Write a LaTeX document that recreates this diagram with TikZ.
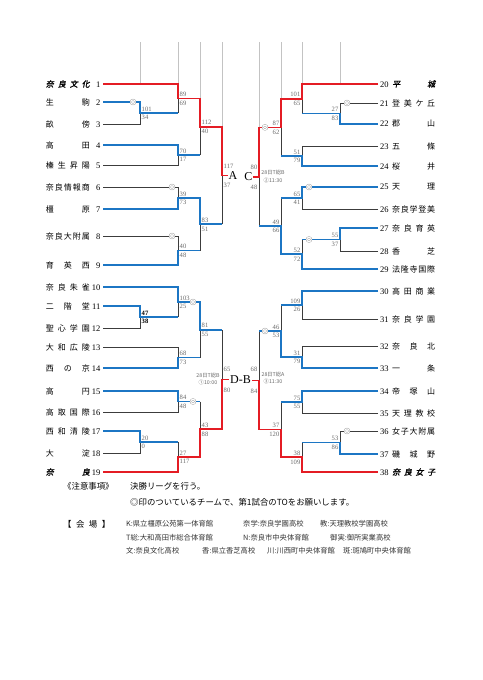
\documentclass[tikz,border=0pt]{standalone}
\usepackage{fontspec}
\setmainfont{Liberation Serif}
\newfontfamily\jp{Noto Sans CJK JP}
\newfontfamily\jpbi[FakeSlant=0.2,FakeBold=1.6]{Noto Sans CJK JP}
\definecolor{wred}{RGB}{228,28,36}
\definecolor{wblue}{RGB}{28,118,196}
\definecolor{lk}{RGB}{60,60,60}
\definecolor{scg}{RGB}{105,105,105}
\definecolor{guideg}{RGB}{195,195,195}
\definecolor{mkg}{RGB}{140,140,140}
\tikzset{
 lose/.style={draw=lk,line width=0.8pt,line join=miter},
 winr/.style={draw=wred,line width=1.6pt,line join=miter},
 winb/.style={draw=wblue,line width=1.6pt,line join=miter},
 guide/.style={draw=guideg,line width=0.7pt},
 teamL/.style={anchor=east,inner sep=0pt,font=\fontsize{8}{9}\selectfont},
 teamR/.style={anchor=west,inner sep=0pt,font=\fontsize{8}{9}\selectfont},
 score/.style={inner sep=0.2pt,font=\fontsize{6.6}{7}\selectfont,text=scg},
 dmk/.style={circle,draw=mkg,double=white,double distance=1.1pt,line width=0.35pt,fill=white,minimum size=4.4pt,inner sep=0pt},
 blk/.style={inner sep=0.5pt,font=\fontsize{12}{12}\selectfont},
 dat/.style={inner sep=0pt,align=center,font=\jp\fontsize{5.3}{7.8}\selectfont,text=scg},
 note/.style={anchor=west,inner sep=0pt,font=\jp\fontsize{8.4}{9}\selectfont},
 venue/.style={anchor=west,inner sep=0pt,font=\jp\fontsize{7.3}{8}\selectfont,text=black!80},
}
\newcommand\NameL[3]{\node[teamL] (t#1) at (103,#2) {\makebox[44pt][s]{#3}\makebox[13pt][r]{\fontsize{8.5}{9}\selectfont #1\hspace{2.5pt}}};}
\newcommand\NameR[3]{\node[teamR] (t#1) at (378,#2) {\makebox[14pt][l]{\hspace{2pt}\fontsize{8.5}{9}\selectfont #1}\makebox[43pt][s]{#3}};}
\newcommand\ScoreL[4][1.4]{\node[score,anchor=south west] (#2a) at ([xshift=1.3pt,yshift=#1pt]#2) {#3};\node[score,anchor=north west] (#2b) at ([xshift=1.3pt,yshift=-#1pt-0.6pt]#2) {#4};}
\newcommand\ScoreR[4][1.4]{\node[score,anchor=south east] (#2a) at ([xshift=-1.3pt,yshift=#1pt]#2) {#3};\node[score,anchor=north east] (#2b) at ([xshift=-1.3pt,yshift=-#1pt-0.6pt]#2) {#4};}
\begin{document}
\begin{tikzpicture}[x=1pt,y=-1pt]
\useasboundingbox (0,0) rectangle (482,680);
% ---------- teams left
\NameL{1}{84}{\jpbi 奈\hfill 良\hfill 文\hfill 化}
\NameL{2}{102}{\jp 生\hfill 駒}
\NameL{3}{124}{\jp 畝\hfill 傍}
\NameL{4}{145}{\jp 高\hfill 田}
\NameL{5}{165}{\jp 榛\hfill 生\hfill 昇\hfill 陽}
\NameL{6}{187}{\jp 奈\hfill 良\hfill 情\hfill 報\hfill 商}
\NameL{7}{209}{\jp 橿\hfill 原}
\NameL{8}{236}{\jp 奈\hfill 良\hfill 大\hfill 附\hfill 属}
\NameL{9}{265}{\jp 育\hfill 英\hfill 西}
\NameL{10}{287}{\jp 奈\hfill 良\hfill 朱\hfill 雀}
\NameL{11}{306}{\jp 二\hfill 階\hfill 堂}
\NameL{12}{328}{\jp 聖\hfill 心\hfill 学\hfill 園}
\NameL{13}{347}{\jp 大\hfill 和\hfill 広\hfill 陵}
\NameL{14}{368}{\jp 西\hfill の\hfill 京}
\NameL{15}{391}{\jp 高\hfill 円}
\NameL{16}{412}{\jp 高\hfill 取\hfill 国\hfill 際}
\NameL{17}{431}{\jp 西\hfill 和\hfill 清\hfill 陵}
\NameL{18}{453}{\jp 大\hfill 淀}
\NameL{19}{472}{\jpbi 奈\hfill 良}
% ---------- teams right
\NameR{20}{84}{\jpbi 平\hfill 城}
\NameR{21}{103}{\jp 登\hfill 美\hfill ケ\hfill 丘}
\NameR{22}{124}{\jp 郡\hfill 山}
\NameR{23}{146}{\jp 五\hfill 條}
\NameR{24}{166}{\jp 桜\hfill 井}
\NameR{25}{187}{\jp 天\hfill 理}
\NameR{26}{209}{\jp 奈\hfill 良\hfill 学\hfill 登\hfill 美}
\NameR{27}{228}{\jp 奈\hfill 良\hfill 育\hfill 英}
\NameR{28}{251}{\jp 香\hfill 芝}
\NameR{29}{269}{\jp 法\hfill 隆\hfill 寺\hfill 国\hfill 際}
\NameR{30}{291}{\jp 高\hfill 田\hfill 商\hfill 業}
\NameR{31}{319}{\jp 奈\hfill 良\hfill 学\hfill 園}
\NameR{32}{346}{\jp 奈\hfill 良\hfill 北}
\NameR{33}{368}{\jp 一\hfill 条}
\NameR{34}{391}{\jp 帝\hfill 塚\hfill 山}
\NameR{35}{413}{\jp 天\hfill 理\hfill 教\hfill 校}
\NameR{36}{431}{\jp 女\hfill 子\hfill 大\hfill 附\hfill 属}
\NameR{37}{454}{\jp 磯\hfill 城\hfill 野}
\NameR{38}{472}{\jpbi 奈\hfill 良\hfill 女\hfill 子}
% ---------- match points left
\coordinate (m23) at (140,113);
\coordinate (m1) at (178,98.5);
\coordinate (m45) at (178,155);
\coordinate (mA1) at (200,126.75);
\coordinate (m67) at (178,198);
\coordinate (m89) at (178,250.5);
\coordinate (mA2) at (200,224.25);
\coordinate (mA) at (222,175.5);
\coordinate (m1112) at (140,317);
\coordinate (m10) at (178,302);
\coordinate (m1314) at (178,357.5);
\coordinate (mD1) at (200,329.75);
\coordinate (m1516) at (178,401.5);
\coordinate (m1718) at (140,442);
\coordinate (m19) at (178,457);
\coordinate (mD2) at (200,429.25);
\coordinate (mD) at (222,379.5);
% ---------- match points right
\coordinate (m2122) at (340,113.5);
\coordinate (m20) at (302,98.75);
\coordinate (m2324) at (302,156);
\coordinate (mC1) at (281,127.375);
\coordinate (m2526) at (302,198);
\coordinate (m2728) at (340,239.5);
\coordinate (m29) at (302,254.25);
\coordinate (mC2) at (281,226.125);
\coordinate (mC) at (259,176.75);
\coordinate (m3031) at (302,305);
\coordinate (m3233) at (302,357);
\coordinate (mB1) at (281,331);
\coordinate (m3435) at (302,402);
\coordinate (m3637) at (340,442.5);
\coordinate (m38) at (302,457.25);
\coordinate (mB2) at (281,429.625);
\coordinate (mB) at (259,380.3125);
% ---------- centre labels
\node[blk,anchor=west] (nA) at (228,175.5) {A};
\node[blk,anchor=east] (nC) at (253,176.75) {C};
\node[blk] (nDB) at (240.5,379.9) {D-B};
\node[dat] (dC) at (273,176.5) {28日T総B\\②11:30};
\node[dat] (dD) at (208,379) {28日T総B\\①10:00};
\node[dat] (dB) at (273,378) {28日T総A\\③11:30};
% ---------- guide lines at top
\coordinate (gL1) at (140,42);
\coordinate (gL2) at (178,42);
\coordinate (gL3) at (200,42);
\coordinate (gL4) at (222,42);
\coordinate (gR1) at (340,42);
\coordinate (gR2) at (302,42);
\coordinate (gR3) at (281,42);
\coordinate (gR4) at (259,42);
\draw[guide] (gL1) -- (gL1 |- t1.east) (gL2) -- (gL2 |- t1.east)
 (gL3) -- (gL3 |- m1) (gL4) -- (gL4 |- mA1)
 (gR1) -- (gR1 |- t20.west) (gR2) -- (gR2 |- t20.west)
 (gR3) -- (gR3 |- m20) (gR4) -- (gR4 |- mC1);
% ---------- losing lines
\draw[lose]
 (t3.east) -- (t3.east -| m23) -- (m23)
 (m23 -| m1) -- (m1)
 (t5.east) -- (t5.east -| m45) -- (m45)
 (m45 -| mA1) -- (mA1)
 (t6.east) -- (t6.east -| m67) -- (m67)
 (t8.east) -- (t8.east -| m89) -- (m89)
 (m89 -| mA2) -- (mA2)
 (mA2 -| mA) -- (mA)
 (t12.east) -- (t12.east -| m1112) -- (m1112)
 (m1112 -| m10) -- (m10)
 (t13.east) -- (t13.east -| m1314) -- (m1314)
 (m1314 -| mD1) -- (mD1)
 (t16.east) -- (t16.east -| m1516) -- (m1516)
 (t18.east) -- (t18.east -| m1718) -- (m1718)
 (m1718 -| m19) -- (m19)
 (m1516 -| mD2) -- (mD2)
 (mD1 -| mD) -- (mD);
\draw[lose]
 (t21.west) -- (t21.west -| m2122) -- (m2122)
 (m2122 -| m20) -- (m20)
 (t23.west) -- (t23.west -| m2324) -- (m2324)
 (m2324 -| mC1) -- (mC1)
 (t26.west) -- (t26.west -| m2526) -- (m2526)
 (t28.west) -- (t28.west -| m2728) -- (m2728)
 (m2728 -| m29) -- (m29)
 (m2526 -| mC2) -- (mC2)
 (mC2 -| mC) -- (mC)
 (t31.west) -- (t31.west -| m3031) -- (m3031)
 (t32.west) -- (t32.west -| m3233) -- (m3233)
 (m3031 -| mB1) -- (mB1)
 (t35.west) -- (t35.west -| m3435) -- (m3435)
 (t36.west) -- (t36.west -| m3637) -- (m3637)
 (m3637 -| m38) -- (m38)
 (m3435 -| mB2) -- (mB2)
 (mB1 -| mB) -- (mB);
% ---------- blue winners
\draw[winb] (t2.east) -- (t2.east -| m23) -- (m23) -- (m23 -| m1);
\draw[winb] (t4.east) -- (t4.east -| m45) -- (m45) -- (m45 -| mA1);
\draw[winb] (t7.east) -- (t7.east -| m67) -- (m67) -- (m67 -| mA2) -- (mA2) -- (mA2 -| mA);
\draw[winb] (t9.east) -- (t9.east -| m89) -- (m89) -- (m89 -| mA2);
\draw[winb] (t10.east) -- (t10.east -| m10) -- (m10) -- (m10 -| mD1) -- (mD1) -- (mD1 -| mD);
\draw[winb] (t11.east) -- (t11.east -| m1112) -- (m1112) -- (m1112 -| m10);
\draw[winb] (t14.east) -- (t14.east -| m1314) -- (m1314) -- (m1314 -| mD1);
\draw[winb] (t15.east) -- (t15.east -| m1516) -- (m1516) -- (m1516 -| mD2);
\draw[winb] (t17.east) -- (t17.east -| m1718) -- (m1718) -- (m1718 -| m19);
\draw[winb] (t22.west) -- (t22.west -| m2122) -- (m2122) -- (m2122 -| m20);
\draw[winb] (t24.west) -- (t24.west -| m2324) -- (m2324) -- (m2324 -| mC1);
\draw[winb] (t25.west) -- (t25.west -| m2526) -- (m2526) -- (m2526 -| mC2);
\draw[winb] (t27.west) -- (t27.west -| m2728) -- (m2728) -- (m2728 -| m29);
\draw[winb] (t29.west) -- (t29.west -| m29) -- (m29) -- (m29 -| mC2) -- (mC2) -- (mC2 -| mC);
\draw[winb] (t30.west) -- (t30.west -| m3031) -- (m3031) -- (m3031 -| mB1);
\draw[winb] (t33.west) -- (t33.west -| m3233) -- (m3233) -- (m3233 -| mB1) -- (mB1) -- (mB1 -| mB);
\draw[winb] (t34.west) -- (t34.west -| m3435) -- (m3435) -- (m3435 -| mB2);
\draw[winb] (t37.west) -- (t37.west -| m3637) -- (m3637) -- (m3637 -| m38);
% ---------- red winners
\draw[winr] (t1.east) -- (t1.east -| m1) -- (m1) -- (m1 -| mA1) -- (mA1) -- (mA1 -| mA) -- (mA) -- (nA.west);
\draw[winr] (t19.east) -- (t19.east -| m19) -- (m19) -- (m19 -| mD2) -- (mD2) -- (mD2 -| mD) -- (mD) -- (mD -| nDB.west);
\draw[winr] (t20.west) -- (t20.west -| m20) -- (m20) -- (m20 -| mC1) -- (mC1) -- (mC1 -| mC) -- (mC) -- (nC.east);
\draw[winr] (t38.west) -- (t38.west -| m38) -- (m38) -- (m38 -| mB2) -- (mB2) -- (mB2 -| mB) -- (mB) -- (mB -| nDB.east);
% ---------- TO marks
\node[dmk] (o2) at (133,102) {};
\node[dmk] (o6) at (172,187) {};
\node[dmk] (o8) at (172,236) {};
\node[dmk] (o10) at (193,302) {};
\node[dmk] (o15) at (193,401.5) {};
\node[dmk] (o21) at (347,103) {};
\node[dmk] (oC1) at (265,127.375) {};
\node[dmk] (o25) at (309,187) {};
\node[dmk] (o27) at (309,239.5) {};
\node[dmk] (oB1) at (265,331) {};
\node[dmk] (o36) at (347,431) {};
% ---------- scores left
\ScoreL{m23}{101}{34}
\ScoreL{m1}{89}{69}
\ScoreL{m45}{70}{17}
\ScoreL{mA1}{112}{40}
\ScoreL{m67}{39}{73}
\ScoreL{m89}{40}{48}
\ScoreL{mA2}{83}{51}
\ScoreL[7]{mA}{117}{37}
\ScoreL{m1112}{\textbf{\color{black}47}}{\textbf{\color{black}38}}
\ScoreL{m10}{103}{25}
\ScoreL{m1314}{68}{73}
\ScoreL{mD1}{81}{55}
\ScoreL{m1516}{84}{48}
\ScoreL{m1718}{20}{0}
\ScoreL{m19}{27}{117}
\ScoreL{mD2}{43}{88}
\ScoreL[8]{mD}{65}{80}
% ---------- scores right
\ScoreR{m2122}{27}{83}
\ScoreR{m20}{101}{65}
\ScoreR{m2324}{51}{79}
\ScoreR{mC1}{87}{62}
\ScoreR{m2526}{65}{41}
\ScoreR{m2728}{55}{37}
\ScoreR{m29}{52}{72}
\ScoreR{mC2}{49}{66}
\ScoreR[7]{mC}{80}{48}
\ScoreR{m3031}{109}{26}
\ScoreR{m3233}{31}{79}
\ScoreR{mB1}{46}{53}
\ScoreR{m3435}{75}{55}
\ScoreR{m3637}{53}{86}
\ScoreR{m38}{38}{109}
\ScoreR{mB2}{37}{120}
\ScoreR[8]{mB}{68}{84}
% ---------- notes
\node[note] (nt1) at (63,486) {《注意事項》};
\node[note] (nt2) at (130,486) {決勝リーグを行う。};
\node[note] (nt3) at (130,502) {◎印のついているチームで、第1試合のTOをお願いします。};
\node[note] (nt4) at (63,524) {【\hspace{4.5pt}会\hspace{4.5pt}場\hspace{4.5pt}】};
\node[venue] (v1) at (126,524) {K:県立橿原公苑第一体育館};
\node[venue] (v2) at (243,524) {奈学:奈良学園高校};
\node[venue] (v3) at (320,524) {教:天理教校学園高校};
\node[venue] (v4) at (126,538) {T総:大和高田市総合体育館};
\node[venue] (v5) at (243,538) {N:奈良市中央体育館};
\node[venue] (v6) at (330,538) {御実:御所実業高校};
\node[venue] (v7) at (126,551) {文:奈良文化高校};
\node[venue] (v8) at (202,551) {香:県立香芝高校};
\node[venue] (v9) at (267,551) {川:川西町中央体育館};
\node[venue] (v10) at (343,551) {斑:斑鳩町中央体育館};
\end{tikzpicture}
\end{document}
